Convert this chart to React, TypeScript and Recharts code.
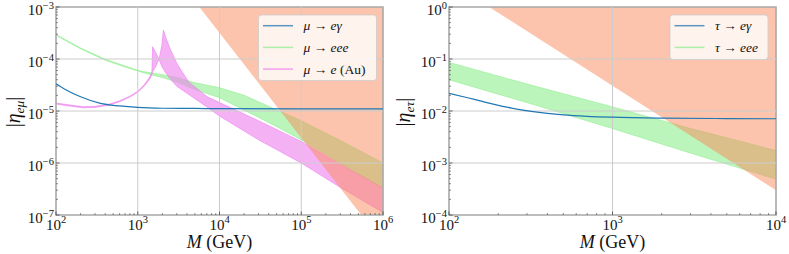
import React from "react";
import { ComposedChart, Area, Line, XAxis, YAxis, ReferenceLine, ReferenceArea } from "recharts";

const FONT = "'Liberation Serif', 'Times New Roman', 'DejaVu Serif', serif";
const fontStyle = { fontFamily: FONT };

// ---------- Left panel: |eta_e mu| ----------
const muXMajor = [1e2, 1e3, 1e4, 1e5, 1e6];
const muYMajor = [1e-7, 1e-6, 1e-5, 1e-4, 1e-3];

// mu -> e gamma
const megM = [100, 130, 200, 350, 600, 1000, 2000, 5000, 1e4, 1e5, 1e6];
const megEta = [3.35e-5, 2.6e-5, 1.88e-5, 1.4e-5, 1.25e-5, 1.17e-5, 1.13e-5, 1.12e-5, 1.11e-5, 1.1e-5, 1.1e-5];

// mu -> eee (band)
const m3eM = [100, 200, 400, 700, 1000, 1200, 2000, 3000, 5000, 1e4, 2e4, 5e4, 1e5, 3e5, 1e6];
const m3eLow = [2.85e-4, 1.57e-4, 9.5e-5, 7.0e-5, 5.9e-5, 5.4e-5, 4.4e-5, 3.6e-5, 2.6e-5, 1.8e-5, 1.05e-5, 5e-6, 2.8e-6, 1.0e-6, 3.3e-7];
const m3eHigh = [2.95e-4, 1.63e-4, 9.9e-5, 7.3e-5, 6.1e-5, 5.7e-5, 5.0e-5, 4.4e-5, 3.5e-5, 2.8e-5, 2.0e-5, 1.05e-5, 6.5e-6, 2.7e-6, 1.0e-6];

// mu -> e (Au): two bounding curves A and B
const auM = [100, 150, 214, 300, 450, 600, 800, 1000, 1200, 1400, 1490, 1520, 1650, 1820, 1970, 2060, 2200, 2480, 3000, 4170, 7000, 1e4, 3e4, 1e5, 3e5, 1e6];
const auA = [1.36e-5, 1.24e-5, 1.15e-5, 1.17e-5, 1.3e-5, 1.5e-5, 1.85e-5, 2.3e-5, 3.0e-5, 4.1e-5, 5.0e-5, 1.72e-4, 1.35e-4, 9.9e-5, 7.2e-5, 6.4e-5, 5.4e-5, 4.2e-5, 3.0e-5, 2.1e-5, 1.2e-5, 8e-6, 2.8e-6, 1e-6, 3.4e-7, 1.12e-7];
const auB = [1.42e-5, 1.3e-5, 1.21e-5, 1.23e-5, 1.36e-5, 1.57e-5, 1.93e-5, 2.4e-5, 3.2e-5, 4.5e-5, 5.6e-5, 5.7e-5, 7e-5, 9.9e-5, 1.8e-4, 3.6e-4, 2.6e-4, 1.6e-4, 8.3e-5, 3.66e-5, 1.9e-5, 1.45e-5, 6.5e-6, 2.6e-6, 9.5e-7, 3.3e-7];

// excluded region (left)
const muExclM = [5670, 1e6];
const muExclEta = [1e-3, 2.9e-8];
const muExclTop = 1e-3;

// ---------- Right panel: |eta_e tau| ----------
const tauXMajor = [1e2, 1e3, 1e4];
const tauYMajor = [1e-4, 1e-3, 1e-2, 1e-1, 1];

// tau -> e gamma
const tegM = [100, 130, 162, 230, 327, 500, 700, 1000, 2000, 5000, 1e4];
const tegEta = [2.19e-2, 1.8e-2, 1.51e-2, 1.17e-2, 9.7e-3, 8.4e-3, 7.9e-3, 7.6e-3, 7.3e-3, 7.15e-3, 7.1e-3];

// tau -> eee (band)
const t3eM = [100, 300, 1000, 3000, 1e4];
const t3eLow = [4.0e-2, 1.45e-2, 4.6e-3, 1.55e-3, 4.9e-4];
const t3eHigh = [8.6e-2, 3.3e-2, 1.2e-2, 4.6e-3, 1.73e-3];

// excluded region (right)
const tauExclM = [176, 1e4];
const tauExclEta = [1, 3e-4];
const tauExclTop = 1;

// ---------- colours ----------
const BLUE = "#1f77b4";
const GREEN = "#90ee90";
const PINK = "#ee82ee";
const ORANGE = "#fa8a5a";

// ---------- helpers ----------
const withMinors = (majors: number[]) => {
  const out: number[] = [];
  majors.forEach((m, i) => {
    out.push(m);
    if (i < majors.length - 1) for (let k = 2; k <= 9; k++) out.push(m * k);
  });
  return out;
};
const expOf = (v: number) => Math.round(Math.log10(v));
const isMajor = (v: number) => Math.abs(Math.log10(v) - expOf(v)) < 1e-9;
const expStr = (e: number) => (e < 0 ? "\u2212" + Math.abs(e) : String(e));

const XTick = (p: any) => {
  const { x, y, payload } = p;
  const v = payload.value;
  const major = isMajor(v);
  return (
    <g>
      <line x1={x} x2={x} y1={y} y2={y - (major ? 3.5 : 2)} stroke="#444" strokeWidth={major ? 0.8 : 0.6} />
      {major && (
        <text x={x} y={y + 15} textAnchor="middle" style={fontStyle} fontSize={15} fill="#111">
          10<tspan dy={-7} fontSize={10.5}>{expStr(expOf(v))}</tspan>
        </text>
      )}
    </g>
  );
};

const YTick = (p: any) => {
  const { x, y, payload } = p;
  const v = payload.value;
  const major = isMajor(v);
  return (
    <g>
      <line x1={x} x2={x + (major ? 3.5 : 2)} y1={y} y2={y} stroke="#444" strokeWidth={major ? 0.8 : 0.6} />
      {major && (
        <text x={x - 2} y={y + 7.5} textAnchor="end" style={fontStyle} fontSize={15} fill="#111">
          10<tspan dy={-6} fontSize={10.5}>{expStr(expOf(v))}</tspan>
        </text>
      )}
    </g>
  );
};

const lineData = (ms: number[], vs: number[]) => ms.map((M, i) => ({ M, eta: vs[i] }));
const bandData = (ms: number[], lo: number[], hi: number[]) =>
  ms.map((M, i) => ({ M, range: [Math.min(lo[i], hi[i]), Math.max(lo[i], hi[i])] }));
const exclData = (ms: number[], bound: number[], top: number) => ms.map((M, i) => ({ M, range: [bound[i], top] }));

type PanelProps = {
  width: number;
  marginRight: number;
  yWidth: number;
  xMajor: number[];
  yMajor: number[];
  bands: { data: any[]; color: string; opacity: number }[];
  lines: { data: any[]; color: string }[];
  excl: any[];
};

const Panel = ({ width, marginRight, yWidth, xMajor, yMajor, bands, lines, excl }: PanelProps) => {
  const xd: [number, number] = [xMajor[0], xMajor[xMajor.length - 1]];
  const yd: [number, number] = [yMajor[0], yMajor[yMajor.length - 1]];
  return (
    <ComposedChart width={width} height={254} margin={{ top: 7, right: marginRight, bottom: 0, left: 0 }}>
      <XAxis
        dataKey="M"
        type="number"
        scale="log"
        domain={xd}
        allowDataOverflow
        ticks={withMinors(xMajor)}
        interval={0}
        tickSize={0}
        tickMargin={0}
        tickLine={false}
        axisLine={false}
        height={39}
        tick={(p: any) => <XTick {...p} />}
      />
      <YAxis
        type="number"
        scale="log"
        domain={yd}
        allowDataOverflow
        ticks={withMinors(yMajor)}
        interval={0}
        tickSize={0}
        tickMargin={0}
        tickLine={false}
        axisLine={false}
        width={yWidth}
        tick={(p: any) => <YTick {...p} />}
      />
      {xMajor.slice(1, -1).map((v) => (
        <ReferenceLine key={"gx" + v} x={v} stroke="#cccccc" strokeWidth={1} />
      ))}
      {yMajor.slice(1, -1).map((v) => (
        <ReferenceLine key={"gy" + v} y={v} stroke="#cccccc" strokeWidth={1} />
      ))}
      {bands.map((b, i) => (
        <Area
          key={"b" + i}
          data={b.data}
          dataKey="range"
          type="linear"
          stroke={b.color}
          strokeWidth={0.9}
          strokeOpacity={0.7}
          fill={b.color}
          fillOpacity={b.opacity}
          isAnimationActive={false}
          dot={false}
          activeDot={false}
        />
      ))}
      {lines.map((l, i) => (
        <Line
          key={"l" + i}
          data={l.data}
          dataKey="eta"
          type="monotone"
          stroke={l.color}
          strokeWidth={1.2}
          dot={false}
          activeDot={false}
          isAnimationActive={false}
        />
      ))}
      <Area
        data={excl}
        dataKey="range"
        type="linear"
        stroke="none"
        fill={ORANGE}
        fillOpacity={0.5}
        isAnimationActive={false}
        dot={false}
        activeDot={false}
      />
      <ReferenceArea x1={xd[0]} x2={xd[1]} y1={yd[0]} y2={yd[1]} fill="none" stroke="#a8a8a8" strokeWidth={1.6} />
    </ComposedChart>
  );
};

const Legend = ({ x, y, w, h, rows }: { x: number; y: number; w: number; h: number; rows: { color: string; label: React.ReactNode }[] }) => (
  <g>
    <rect x={x} y={y} width={w} height={h} rx={3} fill="#ffffff" fillOpacity={0.8} stroke="#cccccc" strokeOpacity={0.8} />
    {rows.map((r, i) => {
      const cy = y + 10.7 + i * 21.7;
      return (
        <g key={i}>
          <line x1={x + 4.5} x2={x + 34.5} y1={cy} y2={cy} stroke={r.color} strokeWidth={1.5} strokeOpacity={0.75} />
          <text x={x + 45} y={cy + 4.5} style={fontStyle} fontSize={13.5} fill="#111">
            {r.label}
          </text>
        </g>
      );
    })}
  </g>
);

export default function App() {
  const leftBands = [
    { data: bandData(m3eM, m3eLow, m3eHigh), color: GREEN, opacity: 0.6 },
    { data: bandData(auM, auA, auB), color: PINK, opacity: 0.62 },
  ];
  const leftLines = [{ data: lineData(megM, megEta), color: BLUE }];
  const rightBands = [{ data: bandData(t3eM, t3eLow, t3eHigh), color: GREEN, opacity: 0.6 }];
  const rightLines = [{ data: lineData(tegM, tegEta), color: BLUE }];

  return (
    <div style={{ position: "absolute", left: 0, top: 0, width: 789, height: 254, background: "#fff", fontFamily: FONT }}>
      <div style={{ position: "absolute", left: 0, top: 0 }}>
        <Panel
          width={400}
          marginRight={17}
          yWidth={56}
          xMajor={muXMajor}
          yMajor={muYMajor}
          bands={leftBands}
          lines={leftLines}
          excl={exclData(muExclM, muExclEta, muExclTop)}
        />
      </div>
      <div style={{ position: "absolute", left: 400, top: 0 }}>
        <Panel
          width={389}
          marginRight={13}
          yWidth={49}
          xMajor={tauXMajor}
          yMajor={tauYMajor}
          bands={rightBands}
          lines={rightLines}
          excl={exclData(tauExclM, tauExclEta, tauExclTop)}
        />
      </div>
      <svg width={789} height={254} style={{ position: "absolute", left: 0, top: 0, pointerEvents: "none" }}>
        <text x={219.5} y={248} textAnchor="middle" style={fontStyle} fontSize={18} fill="#111">
          <tspan fontStyle="italic">M</tspan> (GeV)
        </text>
        <text x={612.5} y={248} textAnchor="middle" style={fontStyle} fontSize={18} fill="#111">
          <tspan fontStyle="italic">M</tspan> (GeV)
        </text>
        <text transform="translate(20,112) rotate(-90)" textAnchor="middle" style={fontStyle} fontSize={20} fill="#111">
          |<tspan fontStyle="italic">η</tspan>
          <tspan fontStyle="italic" fontSize={13.5} dy={4}>eμ</tspan>
          <tspan dy={-4}>|</tspan>
        </text>
        <text transform="translate(410,112) rotate(-90)" textAnchor="middle" style={fontStyle} fontSize={20} fill="#111">
          |<tspan fontStyle="italic">η</tspan>
          <tspan fontStyle="italic" fontSize={13.5} dy={4}>eτ</tspan>
          <tspan dy={-4}>|</tspan>
        </text>
        <Legend
          x={258.5}
          y={15}
          w={118}
          h={65.5}
          rows={[
            { color: BLUE, label: <><tspan fontStyle="italic">μ</tspan> → <tspan fontStyle="italic">eγ</tspan></> },
            { color: GREEN, label: <><tspan fontStyle="italic">μ</tspan> → <tspan fontStyle="italic">eee</tspan></> },
            { color: PINK, label: <><tspan fontStyle="italic">μ</tspan> → <tspan fontStyle="italic">e</tspan> (Au)</> },
          ]}
        />
        <Legend
          x={670}
          y={15}
          w={98}
          h={44.5}
          rows={[
            { color: BLUE, label: <><tspan fontStyle="italic">τ</tspan> → <tspan fontStyle="italic">eγ</tspan></> },
            { color: GREEN, label: <><tspan fontStyle="italic">τ</tspan> → <tspan fontStyle="italic">eee</tspan></> },
          ]}
        />
      </svg>
    </div>
  );
}
